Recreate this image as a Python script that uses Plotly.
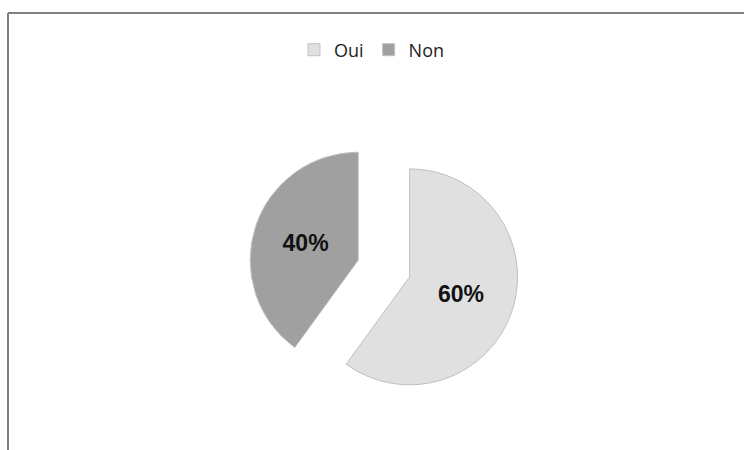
import plotly.graph_objects as go

labels = ["Oui", "Non"]
values = [60, 40]
colors = ["#e0e0e0", "#a0a0a0"]
pulls = [0.25, 0.25]

fig = go.Figure(go.Pie(
    labels=labels,
    values=values,
    sort=False,
    direction="clockwise",
    rotation=0,
    pull=pulls,
    marker=dict(colors=colors, line=dict(color="#c0c0c0", width=1)),
    textinfo="percent",
    textposition="inside",
    insidetextorientation="horizontal",
    textfont=dict(family="Liberation Sans, Arial", size=23, color="#111111", weight="bold"),
    domain=dict(x=[0.2, 0.832], y=[0.1033, 0.7033]),
    hoverinfo="label+percent",
))

fig.update_layout(
    width=744, height=450,
    margin=dict(l=0, r=0, t=0, b=0),
    paper_bgcolor="white",
    plot_bgcolor="white",
    showlegend=True,
    legend=dict(
        orientation="h",
        x=0.5, xanchor="center",
        y=1 - 50 / 450, yanchor="middle",
        font=dict(family="Open Sans, Noto Sans", size=18, color="#222222"),
        itemwidth=30,
        traceorder="normal",
    ),
    shapes=[
        dict(type="line", xref="paper", yref="paper", x0=8/744, x1=1, y0=1-13/450, y1=1-13/450,
             line=dict(color="#808080", width=2)),
        dict(type="line", xref="paper", yref="paper", x0=8/744, x1=8/744, y0=0, y1=1-13/450,
             line=dict(color="#808080", width=2)),
    ],
)

fig.write_html("out.html", config={"displayModeBar": False},
               post_script="document.body.style.margin='0px';")
